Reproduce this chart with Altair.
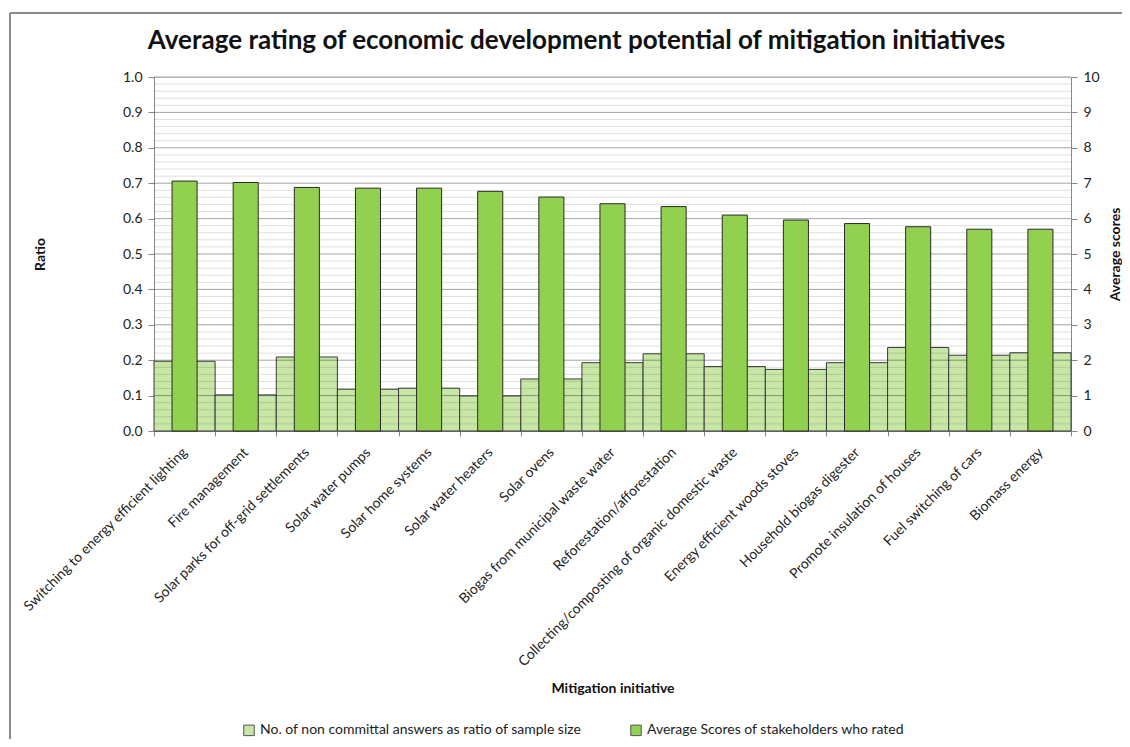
import altair as alt
import pandas as pd

categories = [
    "Switching to energy efficient lighting",
    "Fire management",
    "Solar parks for off-grid settlements",
    "Solar water pumps",
    "Solar home systems",
    "Solar water heaters",
    "Solar ovens",
    "Biogas from municipal waste water",
    "Reforestation/afforestation",
    "Collecting/composting of organic domestic waste",
    "Energy efficient woods stoves",
    "Household biogas digester",
    "Promote insulation of houses",
    "Fuel switching of cars",
    "Biomass energy",
]
ratio_values = [0.197, 0.102, 0.209, 0.118, 0.121, 0.099, 0.147, 0.193, 0.218,
                0.182, 0.174, 0.193, 0.236, 0.214, 0.221]
score_values = [7.06, 7.02, 6.88, 6.86, 6.86, 6.77, 6.61, 6.42, 6.34,
                6.10, 5.96, 5.86, 5.77, 5.70, 5.70]
ratio_ticks = [0.0, 0.1, 0.2, 0.3, 0.4, 0.5, 0.6, 0.7, 0.8, 0.9, 1.0]
score_ticks = [0, 1, 2, 3, 4, 5, 6, 7, 8, 9, 10]
minor_grid = [0.02, 0.04, 0.06, 0.08, 0.12, 0.14, 0.16, 0.18, 0.22, 0.24, 0.26, 0.28,
              0.32, 0.34, 0.36, 0.38, 0.42, 0.44, 0.46, 0.48, 0.52, 0.54, 0.56, 0.58,
              0.62, 0.64, 0.66, 0.68, 0.72, 0.74, 0.76, 0.78, 0.82, 0.84, 0.86, 0.88,
              0.92, 0.94, 0.96, 0.98]
major_grid = [0.1, 0.2, 0.3, 0.4, 0.5, 0.6, 0.7, 0.8, 0.9, 1.0]
series_names = ["No. of non committal answers as ratio of sample size",
                "Average Scores of stakeholders who rated"]

FONT = "Lato"

df_light = pd.DataFrame({"cat": categories, "ratio": ratio_values,
                         "series": [series_names[0]] * len(categories)})
df_dark = pd.DataFrame({"cat": categories, "score": score_values,
                        "series": [series_names[1]] * len(categories)})
df_minor = pd.DataFrame({"ratio": minor_grid})
df_major = pd.DataFrame({"ratio": major_grid})

xenc = alt.X(
    "cat:N",
    sort=categories,
    scale=alt.Scale(paddingInner=0, paddingOuter=0),
    axis=alt.Axis(
        title="Mitigation initiative",
        labelAngle=-45,
        labelAlign="right",
        labelBaseline="middle",
        labelFontSize=14,
        labelFont=FONT,
        labelColor="#222",
        labelLimit=400,
        labelPadding=14,
        tickBand="extent",
        tickSize=5,
        tickColor="#888",
        domainColor="#888",
        titleFont=FONT,
        titleFontSize=14,
        titleFontWeight="bold",
        titleColor="#111",
        titleY=257,
        titleBaseline="middle",
    ),
)

ratio_scale = alt.Scale(domain=[0, 1], nice=False, zero=True)
ratio_axis = alt.Axis(
    title="Ratio",
    values=ratio_ticks,
    format=".1f",
    grid=False,
    labelFontSize=14,
    labelFont=FONT,
    labelColor="#222",
    labelPadding=6,
    tickSize=6,
    tickColor="#888",
    domainColor="#888",
    titleFont=FONT,
    titleFontSize=14,
    titleFontWeight="bold",
    titleColor="#111",
    titleAngle=-90,
    titleX=-114,
    titleY=177,
    titleAlign="center",
    titleBaseline="middle",
)
color_scale = alt.Scale(domain=series_names, range=["#c8e7a7", "#92d050"])
legend = alt.Legend(
    title=None, orient="none", legendX=88, legendY=646, direction="horizontal",
    symbolType="square", symbolSize=110, symbolStrokeColor="#555",
    symbolStrokeWidth=1, labelFont=FONT, labelFontSize=14, labelColor="#222",
    columnPadding=46, labelLimit=500)

light = alt.Chart(df_light).mark_bar(stroke="#3a3a3a", strokeWidth=1).encode(
    x=xenc,
    y=alt.Y("ratio:Q", scale=ratio_scale, axis=ratio_axis, title="Ratio"),
    color=alt.Color("series:N", scale=color_scale, legend=legend),
)

minor = alt.Chart(df_minor).mark_rule(color="black", opacity=0.13, strokeWidth=1).encode(
    y=alt.Y("ratio:Q", scale=ratio_scale, axis=ratio_axis, title="Ratio")
)
major = alt.Chart(df_major).mark_rule(color="black", opacity=0.36, strokeWidth=1).encode(
    y=alt.Y("ratio:Q", scale=ratio_scale, axis=ratio_axis, title="Ratio")
)

dark = alt.Chart(df_dark).mark_bar(width={"band": 0.41}, stroke="#2a2a2a", strokeWidth=1).encode(
    x=xenc,
    y=alt.Y(
        "score:Q",
        scale=alt.Scale(domain=[0, 10], nice=False),
        axis=alt.Axis(
            title="Average scores",
            orient="right",
            values=score_ticks,
            grid=False,
            labelFontSize=14,
            labelFont=FONT,
            labelColor="#222",
            labelPadding=6,
            tickSize=6,
            tickColor="#888",
            domainColor="#888",
            titleFont=FONT,
            titleFontSize=14,
            titleFontWeight="bold",
            titleColor="#111",
            titleAngle=-90,
            titleX=44,
            titleY=177,
            titleAlign="center",
            titleBaseline="middle",
        ),
    ),
    color=alt.Color("series:N", scale=color_scale, legend=legend),
)

frame_left = alt.Chart(df_light).mark_rule(color="#8a8a8a", strokeWidth=1.5).encode(
    x=alt.value(-144), y=alt.value(-64), y2=alt.value(700)
)
frame_top = alt.Chart(df_light).mark_rule(color="#8a8a8a", strokeWidth=1.5).encode(
    x=alt.value(-144), x2=alt.value(1000), y=alt.value(-64)
)

left_layer = alt.layer(light, minor, major)
chart = alt.layer(left_layer, dark, frame_left, frame_top).resolve_scale(
    y="independent"
).properties(
    width=917,
    height=354,
    autosize=alt.AutoSizeParams(type="none"),
    padding={"left": 146, "top": 69, "right": 51, "bottom": 308},
    title=alt.Title(
        "Average rating of economic development potential of mitigation initiatives",
        font=FONT,
        fontSize=26,
        fontWeight="bold",
        color="#111",
        anchor="middle",
        dx=-36,
        offset=-42,
    ),
).configure_view(stroke=None).configure(background="white")

chart.save("out.html", embed_options={"renderer": "svg", "actions": False})
